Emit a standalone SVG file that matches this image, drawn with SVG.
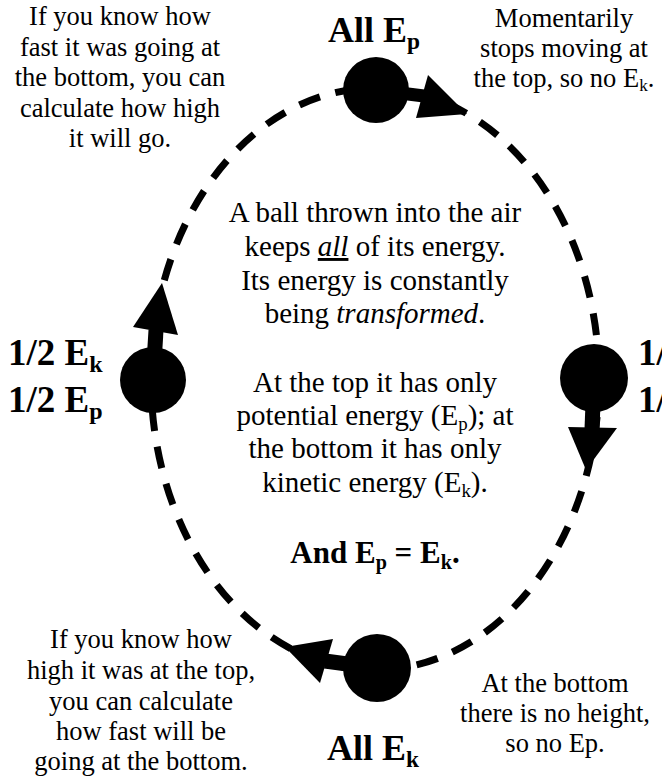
<svg xmlns="http://www.w3.org/2000/svg" width="662" height="782" viewBox="0 0 662 782">
<style>
.t{font-family:"Liberation Serif","Times New Roman",serif;fill:#000}
.c{font-size:26.5px;text-anchor:middle}
.b{font-size:29px;text-anchor:middle}
.L{font-weight:bold;font-size:36px}
.H{font-weight:bold;font-size:37px}
.s{font-size:0.65em}
.ball{fill:#000}
.orbit{fill:none;stroke:#000;stroke-width:7;stroke-dasharray:22 16}
.shaft{stroke:#000;stroke-width:15;fill:none}
.head{fill:#000}
</style>
<rect width="662" height="782" fill="#fff"/>
<g id="connectors">
<ellipse class="orbit" cx="375" cy="379" rx="224" ry="291"/>
</g>
<g id="ball-top">
<circle class="ball" cx="376" cy="90" r="33"/>
<line class="shaft" x1="376" y1="90" x2="424" y2="96" style="stroke-width:13"/>
<polygon class="head" points="428,75 416,118 467,114"/>
<text class="t L" x="328" y="42">All E<tspan class="s" dy="7">p</tspan></text>
</g>
<g id="ball-left">
<circle class="ball" cx="153" cy="380" r="33"/>
<line class="shaft" x1="153" y1="380" x2="156" y2="330"/>
<polygon class="head" points="133,327 178,335 162,283"/>
<text class="t H" x="8" y="365">1/2 E<tspan class="s" dy="7">k</tspan></text>
<text class="t H" x="8" y="412">1/2 E<tspan class="s" dy="7">p</tspan></text>
</g>
<g id="ball-right">
<circle class="ball" cx="594" cy="378" r="34"/>
<line class="shaft" x1="594" y1="378" x2="592" y2="429"/>
<polygon class="head" points="568,427 617,428 586,470"/>
<text class="t H" x="638" y="365">1/2 E<tspan class="s" dy="7">p</tspan></text>
<text class="t H" x="638" y="412">1/2 E<tspan class="s" dy="7">k</tspan></text>
</g>
<g id="ball-bottom">
<circle class="ball" cx="377" cy="668" r="34"/>
<line class="shaft" x1="377" y1="668" x2="325" y2="661"/>
<polygon class="head" points="333,639 320,683 285,647"/>
<text class="t L" x="327" y="760">All E<tspan class="s" dy="7">k</tspan></text>
</g>
<g id="note-top-left">
<text class="t c" x="120" y="25">If you know how</text>
<text class="t c" x="120" y="55.5">fast it was going at</text>
<text class="t c" x="120" y="86">the bottom, you can</text>
<text class="t c" x="120" y="116.5">calculate how high</text>
<text class="t c" x="120" y="147">it will go.</text>
</g>
<g id="note-top-right">
<text class="t c" x="564" y="27">Momentarily</text>
<text class="t c" x="564" y="57">stops moving at</text>
<text class="t c" x="564" y="87">the top, so no E<tspan class="s" dy="4">k</tspan><tspan dy="-4">.</tspan></text>
</g>
<g id="note-center">
<text class="t b" x="375" y="222">A ball thrown into the air</text>
<text class="t b" x="375" y="256">keeps <tspan font-style="italic" text-decoration="underline">all</tspan> of its energy.</text>
<text class="t b" x="375" y="290">Its energy is constantly</text>
<text class="t b" x="375" y="323">being <tspan font-style="italic">transformed</tspan>.</text>
<text class="t b" x="375" y="392">At the top it has only</text>
<text class="t b" x="375" y="425">potential energy (E<tspan class="s" dy="5">p</tspan><tspan dy="-5">); at</tspan></text>
<text class="t b" x="375" y="458">the bottom it has only</text>
<text class="t b" x="375" y="492">kinetic energy (E<tspan class="s" dy="5">k</tspan><tspan dy="-5">).</tspan></text>
<text class="t b" x="375" y="563" style="font-weight:bold;font-size:31px">And E<tspan class="s" dy="6">p</tspan><tspan dy="-6"> = E</tspan><tspan class="s" dy="6">k</tspan><tspan dy="-6">.</tspan></text>
</g>
<g id="note-bottom-left">
<text class="t c" x="141" y="648">If you know how</text>
<text class="t c" x="141" y="679">high it was at the top,</text>
<text class="t c" x="141" y="710">you can calculate</text>
<text class="t c" x="141" y="740">how fast will be</text>
<text class="t c" x="141" y="770">going at the bottom.</text>
</g>
<g id="note-bottom-right">
<text class="t c" x="555" y="692">At the bottom</text>
<text class="t c" x="555" y="722">there is no height,</text>
<text class="t c" x="555" y="752">so no Ep.</text>
</g>
</svg>
